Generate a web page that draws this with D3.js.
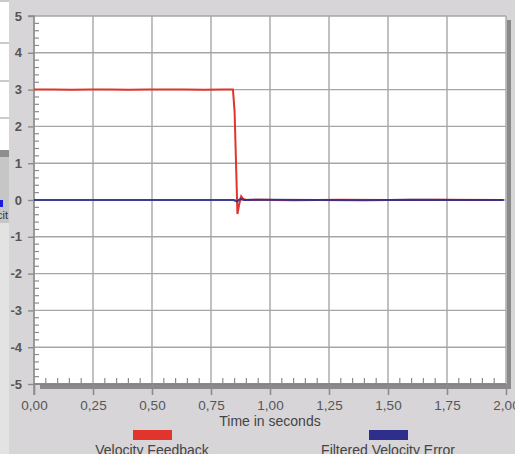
<!DOCTYPE html>
<html>
<head>
<meta charset="utf-8">
<script src="https://cdn.jsdelivr.net/npm/d3@7"></script>
<style>
  html, body { margin: 0; padding: 0; background: #d7d5d7; overflow: hidden; }
  svg { display: block; font-family: "Liberation Sans", Arial, sans-serif; }
</style>
</head>
<body>
<svg id="chart" width="515" height="454"></svg>
<script>
// Time base and recorded traces (seconds / velocity units)
const feedbackTime = [0, 0.08, 0.16, 0.24, 0.32, 0.40, 0.48, 0.56, 0.64, 0.72, 0.80, 0.843, 0.850, 0.862, 0.870, 0.878, 0.886, 0.900, 0.95, 1.10, 1.30, 1.50, 1.70, 1.99];
const feedbackValues = [3.0, 3.005, 2.995, 3.005, 3.0, 2.995, 3.0, 3.005, 3.0, 2.995, 3.0, 3.0, 2.4, -0.38, -0.1, 0.1, 0.03, 0.0, 0.01, -0.01, 0.01, 0.0, 0.01, 0.0];
const errorTime = [0, 0.20, 0.40, 0.60, 0.80, 0.845, 0.860, 0.875, 0.890, 1.00, 1.20, 1.40, 1.60, 1.80, 1.99];
const errorValues = [0.0, 0.0, 0.0, 0.0, 0.0, 0.0, -0.04, 0.03, 0.0, 0.01, 0.0, -0.01, 0.01, 0.0, 0.0];

const xTicks = [0, 0.25, 0.5, 0.75, 1.0, 1.25, 1.5, 1.75, 2.0];
const yTicks = [5, 4, 3, 2, 1, 0, -1, -2, -3, -4, -5];
const seriesNames = ["Velocity Feedback", "Filtered Velocity Error"];
const seriesColors = ["#e0342c", "#2e2e8c"];

(function draw() {
  const svg = d3.select("#chart");
  const left = 34, right = 506, plotTop = 16, bottom = 384;
  const x = d3.scaleLinear().domain([0, 2]).range([left, right]);
  const y = d3.scaleLinear().domain([-5, 5]).range([bottom, plotTop]);
  const fmtX = d => d.toFixed(2).replace(".", ",");
  const fmtY = d => String(d);

  // neighbouring window strip on the far left
  svg.append("rect").attr("x", 0).attr("y", 0).attr("width", 9).attr("height", 150).attr("fill", "#ffffff");
  [1, 43, 81, 118].forEach(v => svg.append("line").attr("x1", 0).attr("x2", 9).attr("y1", v).attr("y2", v).attr("stroke", "#a8a8a8").attr("stroke-width", 1.2));
  svg.append("rect").attr("x", 0).attr("y", 150).attr("width", 9).attr("height", 7).attr("fill", "#8e8e8e");
  svg.append("rect").attr("x", 0).attr("y", 157).attr("width", 9).attr("height", 66).attr("fill", "#c6c6c6");
  svg.append("rect").attr("x", 0).attr("y", 200).attr("width", 3).attr("height", 7).attr("fill", "#1a1ae0");
  svg.append("text").attr("x", -3).attr("y", 219).attr("font-size", 11).attr("fill", "#333").text("cit");
  svg.append("rect").attr("x", 0).attr("y", 223).attr("width", 9).attr("height", 231).attr("fill", "#e4e3e4");

  // drop shadow on the right and bottom of the plot area
  svg.append("rect").attr("x", right + 1).attr("y", plotTop + 4).attr("width", 4).attr("height", bottom - plotTop + 1).attr("fill", "#8a8a8a");
  svg.append("rect").attr("x", left + 6).attr("y", bottom).attr("width", right - left - 5).attr("height", 5).attr("fill", "#8a8a8a");

  // plot background
  svg.append("rect").attr("x", left).attr("y", plotTop).attr("width", right - left).attr("height", bottom - plotTop).attr("fill", "#ffffff");

  // grid
  const grid = svg.append("g").attr("stroke", "#a6a6a6").attr("stroke-width", 1.4);
  xTicks.forEach(t => grid.append("line").attr("x1", x(t)).attr("x2", x(t)).attr("y1", plotTop).attr("y2", bottom));
  yTicks.forEach(t => grid.append("line").attr("x1", left).attr("x2", right).attr("y1", y(t)).attr("y2", y(t)));

  // axes
  const axisColor = "#8c8c8c";
  const yAxis = d3.axisLeft(y).tickValues(yTicks).tickSize(6).tickPadding(6).tickFormat(fmtY);
  const gy = svg.append("g").attr("transform", `translate(${left},0)`).call(yAxis);
  gy.select(".domain").attr("stroke", axisColor).attr("stroke-width", 1.4).attr("d", `M-6,${plotTop}H0V${bottom + 11}`);
  gy.selectAll(".tick line").attr("stroke", axisColor).attr("stroke-width", 1.4);
  gy.selectAll(".tick text").attr("fill", "#555").attr("font-size", 13).attr("font-weight", "bold")
    .attr("font-family", "Liberation Sans, Arial, sans-serif");

  const yMinor = d3.range(-50, 51, 2).map(v => v / 10).filter(v => !yTicks.includes(v));
  svg.append("g").selectAll("line").data(yMinor).join("line")
    .attr("x1", left).attr("x2", left + 5).attr("y1", d => y(d)).attr("y2", d => y(d))
    .attr("stroke", axisColor).attr("stroke-width", 1.2);

  const xAxis = d3.axisBottom(x).tickValues(xTicks).tickSize(11).tickPadding(5).tickFormat(fmtX);
  const gx = svg.append("g").attr("transform", `translate(0,${bottom})`).call(xAxis);
  gx.select(".domain").attr("stroke", "#7a7a7a").attr("stroke-width", 1.6).attr("d", `M${left},0H${right}`);
  gx.selectAll(".tick line").attr("stroke", axisColor).attr("stroke-width", 1.6);
  gx.selectAll(".tick text").attr("fill", "#555").attr("font-size", 13.5)
    .attr("font-family", "Liberation Sans, Arial, sans-serif");

  const xMinor = d3.range(0, 201, 5).map(v => v / 100).filter(v => !xTicks.includes(v));
  svg.append("g").selectAll("line").data(xMinor).join("line")
    .attr("x1", d => x(d)).attr("x2", d => x(d)).attr("y1", bottom).attr("y2", bottom - 6)
    .attr("stroke", axisColor).attr("stroke-width", 1.2);

  // data traces
  const line = d3.line().x(d => x(d[0])).y(d => y(d[1]));
  svg.append("path").datum(feedbackTime.map((t, i) => [t, feedbackValues[i]]))
    .attr("d", line).attr("fill", "none").attr("stroke", seriesColors[0]).attr("stroke-width", 2);
  svg.append("path").datum(errorTime.map((t, i) => [t, errorValues[i]]))
    .attr("d", line).attr("fill", "none").attr("stroke", seriesColors[1]).attr("stroke-width", 2).attr("stroke-opacity", 0.9);

  // axis title
  svg.append("text").attr("x", 270).attr("y", 426).attr("text-anchor", "middle")
    .attr("font-size", 14).attr("fill", "#444").text("Time in seconds");

  // legend
  const legendX = [152, 388];
  seriesNames.forEach((name, i) => {
    svg.append("rect").attr("x", legendX[i] - 19).attr("y", 430).attr("width", 39).attr("height", 10).attr("fill", seriesColors[i]);
    svg.append("text").attr("x", legendX[i]).attr("y", 455).attr("text-anchor", "middle")
      .attr("font-size", 14).attr("fill", "#444").text(name);
  });
})();
</script>
</body>
</html>
